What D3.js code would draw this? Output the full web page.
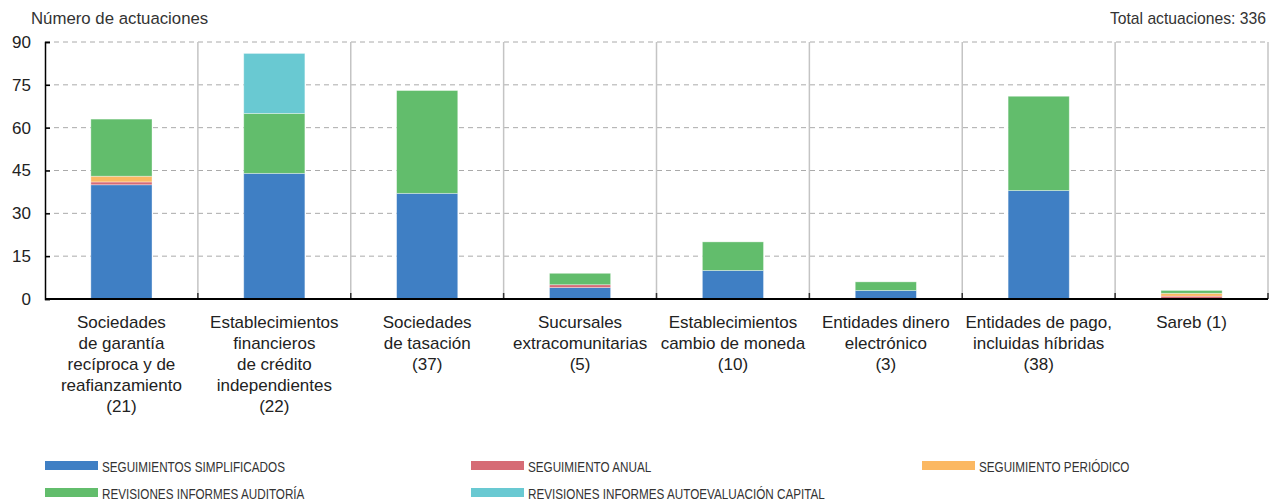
<!DOCTYPE html>
<html><head><meta charset="utf-8">
<script src="https://cdn.jsdelivr.net/npm/d3@7"></script>
<style>
body{margin:0;background:#fff;}
svg{display:block;font-family:"Liberation Sans",Arial,Helvetica,sans-serif;}
</style></head>
<body><svg id="c" width="1272" height="502"></svg>
<script>
const categories = [
  ["Sociedades","de garantía","recíproca y de","reafianzamiento","(21)"],
  ["Establecimientos","financieros","de crédito","independientes","(22)"],
  ["Sociedades","de tasación","(37)"],
  ["Sucursales","extracomunitarias","(5)"],
  ["Establecimientos","cambio de moneda","(10)"],
  ["Entidades dinero","electrónico","(3)"],
  ["Entidades de pago,","incluidas híbridas","(38)"],
  ["Sareb (1)"]
];
const seriesNames = ["SEGUIMIENTOS SIMPLIFICADOS","SEGUIMIENTO ANUAL","SEGUIMIENTO PERIÓDICO","REVISIONES INFORMES AUDITORÍA","REVISIONES INFORMES AUTOEVALUACIÓN CAPITAL"];
const seriesColors = ["#3f7fc4","#d66b75","#fbb862","#62bd6c","#69c9d2"];
const seguimientosSimplificados = [40,44,37,4,10,3,38,0];
const seguimientoAnual          = [1,0,0,1,0,0,0,1];
const seguimientoPeriodico      = [2,0,0,0,0,0,0,1];
const revisionesAuditoria       = [20,21,36,4,10,3,33,1];
const revisionesAutoevaluacion  = [0,21,0,0,0,0,0,0];
const yTicks = [0,15,30,45,60,75,90];
const yTitle = "Número de actuaciones";
const totalLabel = "Total actuaciones: 336";

const seriesValues = [seguimientosSimplificados,seguimientoAnual,seguimientoPeriodico,revisionesAuditoria,revisionesAutoevaluacion];
const svg = d3.select("#c");
const L=45,R=1268,T=42,B=299;
const x = d3.scaleBand().domain(d3.range(categories.length)).range([L,R]).padding(0);
const y = d3.scaleLinear().domain([0,90]).range([B,T]);
const bw = x.bandwidth()*0.4;

// gridlines
svg.append("g").selectAll("line").data(yTicks.filter(d=>d>0)).join("line")
  .attr("x1",L).attr("x2",R).attr("y1",d=>y(d)).attr("y2",d=>y(d))
  .attr("stroke","#aaa").attr("stroke-width",1).attr("stroke-dasharray","5,4");

// category separators
svg.append("g").selectAll("line").data(d3.range(1,categories.length+1)).join("line")
  .attr("x1",d=>d===categories.length?R:x(d)).attr("x2",d=>d===categories.length?R:x(d))
  .attr("y1",T).attr("y2",B).attr("stroke","#c4c4c4").attr("stroke-width",1.5);
svg.append("g").selectAll("line").data(d3.range(1,categories.length+1)).join("line")
  .attr("x1",d=>d===categories.length?R:x(d)).attr("x2",d=>d===categories.length?R:x(d))
  .attr("y1",B-6).attr("y2",B).attr("stroke","#333").attr("stroke-width",1.5);

// stacked bars
const rows = categories.map((c,i)=>{const o={i};seriesValues.forEach((s,k)=>o[k]=s[i]);return o;});
const stack = d3.stack().keys(d3.range(seriesValues.length))(rows);
stack.forEach((layer,k)=>{
  svg.append("g").selectAll("rect").data(layer.filter(d=>d[1]-d[0]>0)).join("rect")
    .attr("x",d=>x(d.data.i)+(x.bandwidth()-bw)/2)
    .attr("width",bw)
    .attr("y",d=>y(d[1]))
    .attr("height",d=>y(d[0])-y(d[1]))
    .attr("fill",seriesColors[k])
    .attr("stroke","rgba(255,255,255,0.45)").attr("stroke-width",0.8);
});

// y axis
const ya = d3.axisLeft(y).tickValues(yTicks).tickSize(-5).tickPadding(14);
const gy = svg.append("g").attr("transform",`translate(${L},0)`).call(ya);
gy.select(".domain").attr("stroke","#000").attr("stroke-width",1.5);
gy.selectAll(".tick line").attr("stroke","#000").attr("stroke-width",1.5);
gy.selectAll("text").attr("font-size",17).attr("fill","#222").attr("font-family","Liberation Sans,Arial,sans-serif");

// x axis
svg.append("line").attr("x1",L).attr("x2",R).attr("y1",B).attr("y2",B).attr("stroke","#000").attr("stroke-width",1.8);

// category labels
const cl = svg.append("g").selectAll("text").data(categories).join("text")
  .attr("text-anchor","middle").attr("font-size",17).attr("fill","#222")
  .attr("transform",(d,i)=>`translate(${x(i)+x.bandwidth()/2},328)`);
cl.selectAll("tspan").data(d=>d).join("tspan").attr("x",0).attr("dy",(d,j)=>j===0?0:21).text(d=>d);

// titles
svg.append("text").attr("x",31).attr("y",24).attr("font-size",16.8).attr("fill","#333").text(yTitle);
svg.append("text").attr("x",1266).attr("y",24).attr("text-anchor","end").attr("font-size",15.7).attr("fill","#333").text(totalLabel);

// legend
const legPos = [[45,466],[471,466],[922,466],[45,493],[471,493]];
const lg = svg.append("g").selectAll("g").data(seriesNames).join("g")
  .attr("transform",(d,i)=>`translate(${legPos[i][0]},${legPos[i][1]})`);
lg.append("rect").attr("x",0).attr("y",-5).attr("width",53).attr("height",9).attr("fill",(d,i)=>seriesColors[i]);
lg.append("text").attr("transform","translate(57,5.5) scale(0.78,1)").attr("font-size",15).attr("fill","#333")
  .text(d=>d);
</script></body></html>
